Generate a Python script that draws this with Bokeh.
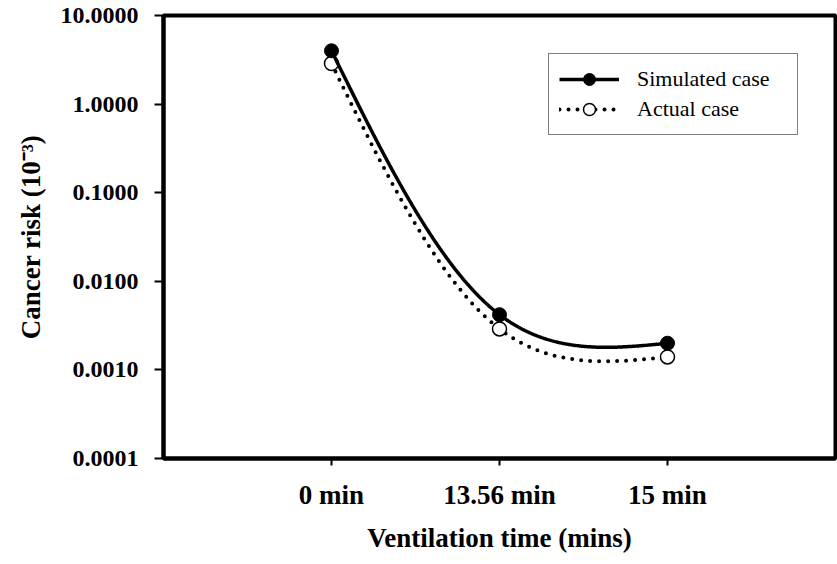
import numpy as np
from bokeh.plotting import figure
from bokeh.models import Range1d, FixedTicker, PrintfTickFormatter, Legend, LegendItem
from bokeh.embed import file_html
from bokeh.resources import INLINE

# ---- data ----
categories = ["0 min", "13.56 min", "15 min"]
simulated = [4.0, 0.0042, 0.0020]
actual = [2.87, 0.0029, 0.0014]
y_ticks = [0.0001, 0.001, 0.01, 0.1, 1.0, 10.0]

x_pos = list(range(1, len(categories) + 1))

W, H = 837, 564
BL, BR, BT, BB = 163, 2, 15, 106
X0, X1 = 0, len(categories) + 1


def natural_spline_eval(ts, vs, tt):
    ts = np.asarray(ts, float)
    vs = np.asarray(vs, float)
    k = len(ts)
    h = np.diff(ts)
    A = np.zeros((k, k))
    b = np.zeros(k)
    A[0, 0] = 1
    A[-1, -1] = 1
    for i in range(1, k - 1):
        A[i, i - 1] = h[i - 1]
        A[i, i] = 2 * (h[i - 1] + h[i])
        A[i, i + 1] = h[i]
        b[i] = 6 * ((vs[i + 1] - vs[i]) / h[i] - (vs[i] - vs[i - 1]) / h[i - 1])
    M = np.linalg.solve(A, b)
    idx = np.clip(np.searchsorted(ts, tt) - 1, 0, k - 2)
    a0 = ts[idx]
    a1 = ts[idx + 1]
    hh = a1 - a0
    t0 = a1 - tt
    t1 = tt - a0
    return (M[idx] * t0 ** 3 / (6 * hh) + M[idx + 1] * t1 ** 3 / (6 * hh)
            + (vs[idx] / hh - M[idx] * hh / 6) * t0
            + (vs[idx + 1] / hh - M[idx + 1] * hh / 6) * t1)


def smooth_curve(xs, ys, alpha=0.25, n=400):
    # parametric natural spline in screen-proportional space
    ax = (W - BL - BR) / (X1 - X0)
    ay = (H - BT - BB) / (np.log10(y_ticks[-1]) - np.log10(y_ticks[0]))
    X = np.asarray(xs, float) * ax
    Y = np.log10(np.asarray(ys, float)) * ay
    d = np.hypot(np.diff(X), np.diff(Y))
    t = np.concatenate([[0], np.cumsum(d ** alpha)])
    tt = np.linspace(t[0], t[-1], n)
    return natural_spline_eval(t, X, tt) / ax, 10 ** (natural_spline_eval(t, Y, tt) / ay)


FONT = "Liberation Serif"

p = figure(width=W, height=H, output_backend="svg", toolbar_location=None,
           x_range=Range1d(X0, X1), y_range=Range1d(y_ticks[0], y_ticks[-1]),
           y_axis_type="log",
           min_border_left=BL, min_border_right=BR, min_border_top=BT, min_border_bottom=BB)

p.background_fill_color = "white"
p.border_fill_color = "white"
p.outline_line_color = "black"
p.outline_line_width = 4
p.xgrid.visible = False
p.ygrid.visible = False

# x axis
xa = p.xaxis[0]
xa.ticker = FixedTicker(ticks=x_pos)
xa.major_label_overrides = {xp: c for xp, c in zip(x_pos, categories)}
xa.axis_label = "Ventilation time (mins)"
xa.axis_line_width = 4
xa.major_tick_line_width = 2
xa.major_tick_out = 7
xa.major_tick_in = 0
xa.minor_tick_line_color = None
xa.major_label_text_font = FONT
xa.major_label_text_font_style = "bold"
xa.major_label_text_font_size = "27px"
xa.major_label_text_color = "black"
xa.major_label_standoff = 14
xa.axis_label_text_font = FONT
xa.axis_label_text_font_style = "bold"
xa.axis_label_text_font_size = "27px"
xa.axis_label_text_color = "black"
xa.axis_label_standoff = 10

# y axis
ya = p.yaxis[0]
ya.ticker = FixedTicker(ticks=y_ticks)
ya.formatter = PrintfTickFormatter(format="%.4f")
ya.axis_label = "Cancer risk (10\u207b\u00b3)"
ya.axis_line_width = 4
ya.major_tick_line_width = 2
ya.major_tick_out = 9
ya.major_tick_in = 0
ya.minor_tick_line_color = None
ya.major_label_text_font = FONT
ya.major_label_text_font_style = "bold"
ya.major_label_text_font_size = "24px"
ya.major_label_text_color = "black"
ya.major_label_standoff = 16
ya.axis_label_text_font = FONT
ya.axis_label_text_font_style = "bold"
ya.axis_label_text_font_size = "27px"
ya.axis_label_text_color = "black"
ya.axis_label_standoff = 12

# curves
xs_s, ys_s = smooth_curve(x_pos, simulated)
xs_a, ys_a = smooth_curve(x_pos, actual)

a_line = p.line(xs_a, ys_a, line_color="black", line_width=4,
                line_dash="0 9", line_cap="round")
a_pts = p.scatter(x_pos, actual, size=14, marker="circle", fill_color="white",
                  line_color="black", line_width=1.5)
s_line = p.line(xs_s, ys_s, line_color="black", line_width=3.5)
s_pts = p.scatter(x_pos, simulated, size=14, marker="circle", fill_color="black",
                  line_color="black")

legend = Legend(items=[
    LegendItem(label="Simulated case", renderers=[s_line, s_pts]),
    LegendItem(label="Actual case", renderers=[a_line, a_pts]),
], location=(385, 323))
legend.label_text_font = FONT
legend.label_text_font_size = "22px"
legend.label_text_color = "black"
legend.border_line_color = "black"
legend.border_line_width = 1.5
legend.background_fill_alpha = 1
legend.padding = 10
legend.margin = 0
legend.spacing = 0
legend.glyph_width = 60
legend.glyph_height = 30
legend.label_height = 30
legend.label_width = 150
legend.label_standoff = 18
p.add_layout(legend)

open("out.html", "w").write(file_html(p, INLINE))
